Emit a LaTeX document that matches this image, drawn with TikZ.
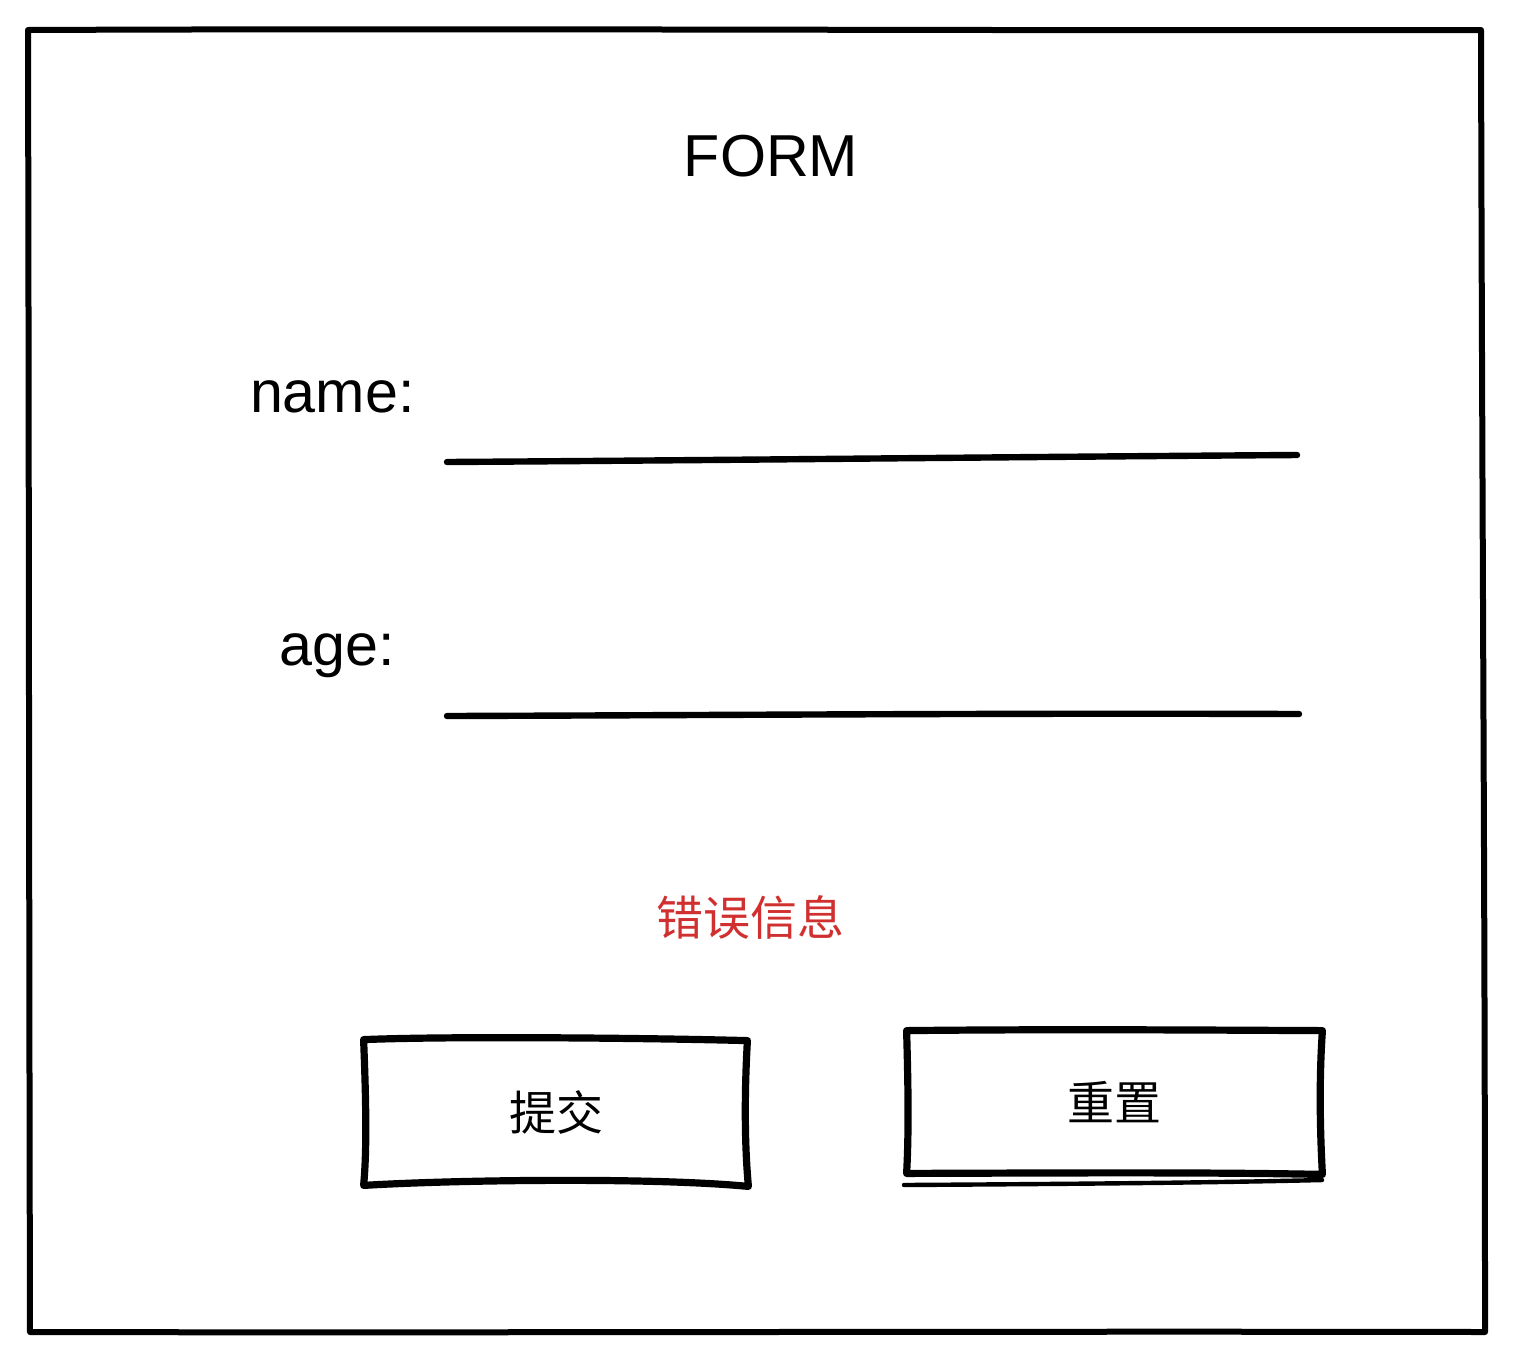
\documentclass[tikz,border=0pt]{standalone}
\usepackage{fontspec}
\setmainfont{Liberation Sans}
\newfontfamily\cjk{Noto Sans CJK SC}
\definecolor{errred}{HTML}{D0302F}
\begin{document}
\begin{tikzpicture}[x=0.5pt,y=-0.5pt,
  frame/.style={line width=3pt,line cap=round,line join=round},
  field/.style={line width=3.2pt,line cap=round},
  btnline/.style={line width=3.6pt,line cap=round,line join=round},
  label/.style={font=\fontsize{29.6}{34}\selectfont,inner sep=0pt,anchor=base},
  cjklabel/.style={font=\cjk\fontsize{23.5}{28}\selectfont,inner sep=0pt},
  btn/.style={inner sep=0pt,font=\cjk\fontsize{23.5}{28}\selectfont}]
\useasboundingbox (0,0) rectangle (1513,1361);
\fill[white] (0,0) rectangle (1513,1361);
% outer frame
\draw[frame] (28,30) .. controls (500,28) and (1000,31) .. (1481,30)
  .. controls (1482,500) and (1485,900) .. (1485,1332)
  .. controls (1000,1331) and (500,1333) .. (30,1332)
  .. controls (29,900) and (29,500) .. (28,30);
% title
\node[label] (title) at (771,176) {FORM};
% name field
\node[label,anchor=base east] (name) at (415,412) {name:};
\coordinate (n1) at (447,462);
\coordinate (n2) at (1297,455);
\draw[field] (n1) .. controls (750,460) and (1000,457) .. (n2);
% age field
\node[label,anchor=base east] (age) at (395,665) {age:};
\coordinate (a1) at (447,716);
\coordinate (a2) at (1299,714);
\draw[field] (a1) .. controls (750,715) and (1000,713) .. (a2);
% error message
\node[cjklabel,text=errred] (err) at (750,917) {错误信息};
% submit button
\node[btn,minimum width=191pt,minimum height=71.5pt] (submit) at (556,1112.5) {提交};
\draw[btnline] ([shift={(-1,-1)}]submit.north west) .. controls (450,1036) and (650,1038) .. ([shift={(0,0)}]submit.north east)
  .. controls (744,1100) and (745,1150) .. ([shift={(1,2)}]submit.south east)
  .. controls (650,1177) and (450,1180) .. ([shift={(-1,1)}]submit.south west)
  .. controls (367,1150) and (366,1100) .. ([shift={(-1,-1)}]submit.north west);
% reset button
\node[btn,minimum width=207.5pt,minimum height=70.5pt] (reset) at (1114.5,1102.5) {重置};
\draw[btnline] ([shift={(0,-1)}]reset.north west) .. controls (1050,1029) and (1200,1030) .. ([shift={(0,-1)}]reset.north east)
  .. controls (1319,1080) and (1320,1130) .. ([shift={(0,1)}]reset.south east)
  .. controls (1200,1172) and (1050,1173) .. ([shift={(0,0)}]reset.south west)
  .. controls (909,1130) and (908,1080) .. ([shift={(0,-1)}]reset.north west);
\coordinate (r1) at (904,1185);
\coordinate (r2) at (1322,1180);
\draw[line width=2.2pt,line cap=round] (r1) .. controls (1050,1184) and (1200,1183) .. (r2);
\end{tikzpicture}
\end{document}
